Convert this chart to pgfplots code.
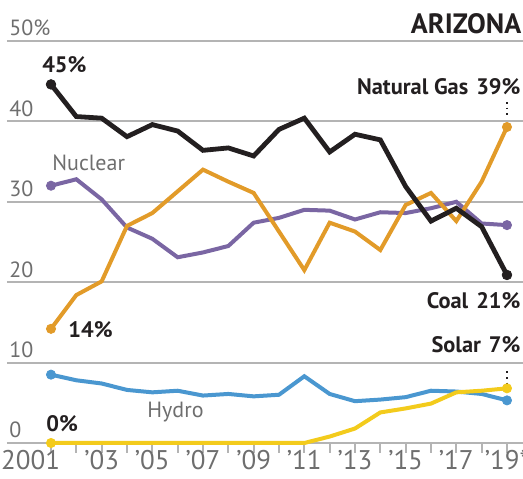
\documentclass[border=0pt]{standalone}
\usepackage{pgfplots}
\pgfplotsset{compat=1.18}
\usepackage{fontspec}
\setmainfont{PT Sans}
\definecolor{coalc}{HTML}{231F20}
\definecolor{gasc}{HTML}{E29B29}
\definecolor{nucc}{HTML}{7A66A3}
\definecolor{hydc}{HTML}{4A97D0}
\definecolor{solc}{HTML}{F3CB1C}
\definecolor{gridc}{HTML}{B4B4B4}
\definecolor{labc}{HTML}{6E6E6E}
\tikzset{
  ylab/.style={anchor=west, inner sep=0pt, font=\fontsize{11}{11}\selectfont, text=labc},
  blab/.style={inner sep=0pt, font=\fontsize{11.2}{11.2}\selectfont\bfseries, text=coalc},
}

\begin{document}
\begin{tikzpicture}
\begin{axis}[
  scale only axis,
  width=258pt, height=201pt,
  xmin=1999.263, xmax=2019.633,
  ymin=0, ymax=50,
  axis x line*=bottom, axis y line*=left,
  y axis line style={draw=none},
  x axis line style={gridc, line width=1pt},
  xtick={2001,...,2019},
  xticklabels={\makebox[9pt][r]{2001},,’03,,’05,,’07,,’09,,’11,,’13,,’15,,’17,,’19*},
  xtick style={gridc, line width=0.9pt},
  major tick length=5pt,
  tick align=outside,
  ytick={0,10,20,30,40,50}, yticklabels={},
  ytick style={draw=none},
  ymajorgrids, grid style={gridc, line width=1pt},
  xticklabel style={font=\fontsize{13.5}{13.5}\selectfont, text=labc,
    inner sep=0pt, anchor=north, yshift=1.5pt},
  clip=false,
]
\coordinate (bl) at (rel axis cs:-0.01357,-0.08955);
\coordinate (tr) at (rel axis cs:1,1.10199);

% y labels above the grid lines
\node[ylab] at (axis cs:1999.34,1.6) {0};
\node[ylab] at (axis cs:1999.34,11.6) {10};
\node[ylab] at (axis cs:1999.34,21.6) {20};
\node[ylab] at (axis cs:1999.34,31.6) {30};
\node[ylab] at (axis cs:1999.34,41.6) {40};
\node[ylab] at (axis cs:1999.34,51.6) {50\%};

% Hydro
\addplot[hydc, line width=2pt, mark=none] coordinates {
(2001,8.5) (2002,7.8) (2003,7.4) (2004,6.6) (2005,6.3) (2006,6.5)
(2007,5.9) (2008,6.1) (2009,5.8) (2010,6.0) (2011,8.3) (2012,6.1)
(2013,5.2) (2014,5.4) (2015,5.7) (2016,6.5) (2017,6.4) (2018,6.1)
(2019,5.3)};
\addplot[only marks, hydc, mark=*, mark size=2.3pt] coordinates {(2001,8.5) (2019,5.3)};

% Solar
\addplot[solc, line width=2pt, mark=none] coordinates {
(2001,0) (2002,0) (2003,0) (2004,0) (2005,0) (2006,0) (2007,0)
(2008,0) (2009,0) (2010,0) (2011,0) (2012,0.8) (2013,1.8)
(2014,3.8) (2015,4.3) (2016,4.9) (2017,6.3) (2018,6.5) (2019,6.8)};
\addplot[only marks, solc, mark=*, mark size=2.3pt] coordinates {(2001,0) (2019,6.8)};

% Nuclear
\addplot[nucc, line width=2pt, mark=none] coordinates {
(2001,32.0) (2002,32.8) (2003,30.3) (2004,26.8) (2005,25.4) (2006,23.1)
(2007,23.7) (2008,24.5) (2009,27.4) (2010,28.0) (2011,29.0) (2012,28.9)
(2013,27.8) (2014,28.7) (2015,28.6) (2016,29.2) (2017,30.0) (2018,27.3)
(2019,27.1)};
\addplot[only marks, nucc, mark=*, mark size=2.3pt] coordinates {(2001,32.0) (2019,27.1)};

% Natural gas
\addplot[gasc, line width=2pt, mark=none] coordinates {
(2001,14.2) (2002,18.4) (2003,20.1) (2004,27.0) (2005,28.6) (2006,31.3)
(2007,34.0) (2008,32.5) (2009,31.1) (2010,26.3) (2011,21.5) (2012,27.4)
(2013,26.3) (2014,24.0) (2015,29.6) (2016,31.1) (2017,27.6) (2018,32.5)
(2019,39.3)};
\addplot[only marks, gasc, mark=*, mark size=2.3pt] coordinates {(2001,14.2) (2019,39.3)};

% Coal
\addplot[coalc, line width=2.4pt, mark=none] coordinates {
(2001,44.6) (2002,40.6) (2003,40.4) (2004,38.1) (2005,39.6) (2006,38.8)
(2007,36.4) (2008,36.7) (2009,35.7) (2010,39.0) (2011,40.4) (2012,36.2)
(2013,38.4) (2014,37.7) (2015,31.9) (2016,27.6) (2017,29.2) (2018,26.9)
(2019,20.9)};
\addplot[only marks, coalc, mark=*, mark size=2.4pt] coordinates {(2001,44.6) (2019,20.9)};

% leaders
\draw[coalc, line width=0.8pt, dotted] (axis cs:2019,42.4) -- (axis cs:2019,40.5);
\draw[coalc, line width=0.8pt, dotted] (axis cs:2019,8.9) -- (axis cs:2019,7.5);

% labels
\node[blab, anchor=east, font=\fontsize{14}{14}\selectfont\bfseries]
  at (axis cs:2019.58,52.1) {ARIZONA};
\node[blab, anchor=west] at (axis cs:2000.64,47.0) {45\%};
\node[blab, anchor=east] at (axis cs:2019.55,44.3) {Natural Gas\hspace{4pt}39\%};
\node[ylab] at (axis cs:2001.04,34.8) {Nuclear};
\node[blab, anchor=west] at (axis cs:2001.67,14.05) {14\%};
\node[blab, anchor=east] at (axis cs:2019.55,17.7) {Coal\hspace{4pt}21\%};
\node[blab, anchor=east] at (axis cs:2019.55,12.2) {Solar\hspace{4pt}7\%};
\node[ylab] at (axis cs:2004.79,3.8) {Hydro};
\node[blab, anchor=west] at (axis cs:2000.80,2.36) {0\%};
\end{axis}
\pgfresetboundingbox
\path[use as bounding box] (bl) rectangle (tr);
\end{tikzpicture}
\end{document}
